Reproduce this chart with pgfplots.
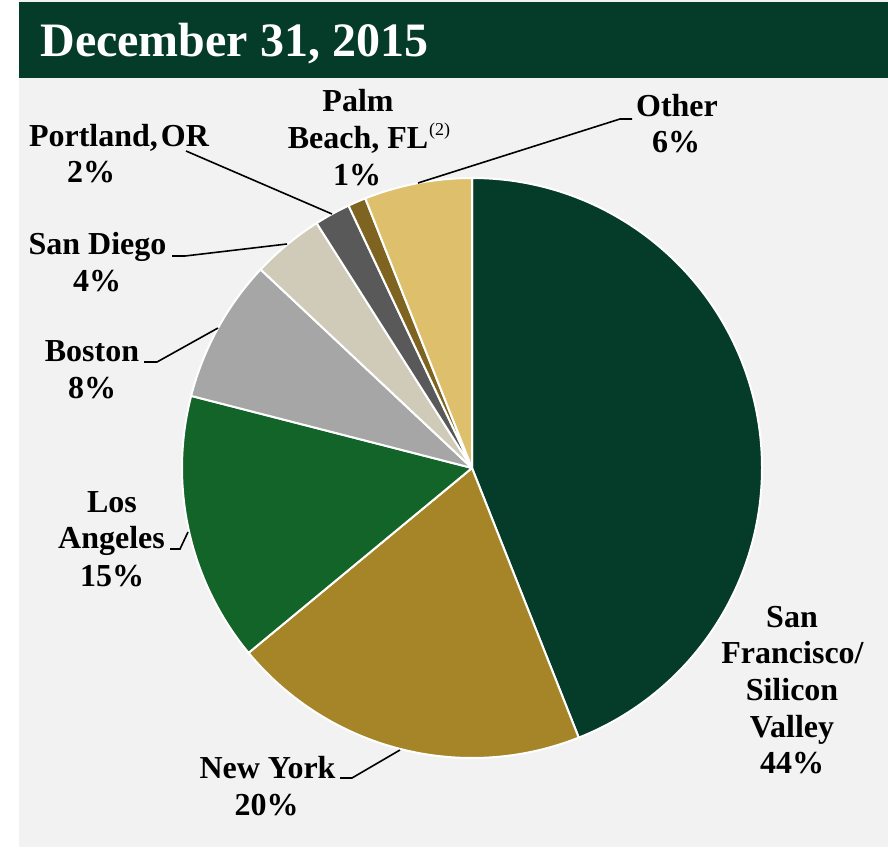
\documentclass[border=0pt]{standalone}
\usepackage{pgfplots}
\usepackage{pgfplotstable}
\pgfplotsset{compat=1.18}
\usepackage{fontspec}
\setmainfont{Liberation Serif}
\definecolor{bgGray}{HTML}{F2F2F2}
\definecolor{barGreen}{HTML}{053B29}
\definecolor{c0}{HTML}{053B29}
\definecolor{c1}{HTML}{A68529}
\definecolor{c2}{HTML}{126428}
\definecolor{c3}{HTML}{A6A6A6}
\definecolor{c4}{HTML}{D0CBB9}
\definecolor{c5}{HTML}{595959}
\definecolor{c6}{HTML}{7F6320}
\definecolor{c7}{HTML}{DEBF6C}
\pgfplotstableread{
name value
SF 44
NY 20
LA 15
BOS 8
SD 4
POR 2
PB 1
OTH 6
}\piedata
\newcommand{\lfont}{\fontsize{16}{18}\selectfont\bfseries}
\newcommand{\lab}[3]{\node[anchor=base,inner sep=0pt,font=\lfont] at (axis cs:#1,#2) {#3};}
\begin{document}
\begin{tikzpicture}
\def\cum{0}
\foreach \i in {0,...,7}{
  \pgfplotstablegetelem{\i}{value}\of{\piedata}
  \pgfmathsetmacro{\s}{90-3.6*\cum}
  \pgfmathsetmacro{\newcum}{\cum+\pgfplotsretval}
  \pgfmathsetmacro{\e}{90-3.6*\newcum}
  \expandafter\xdef\csname ps\i\endcsname{\s}
  \expandafter\xdef\csname pe\i\endcsname{\e}
  \xdef\cum{\newcum}
}
\begin{axis}[
  scale only axis, width=444pt, height=423.5pt,
  xmin=0, xmax=888, ymin=0, ymax=847,
  hide axis, clip=false
]
\fill[white] (axis cs:0,0) rectangle (axis cs:888,847);
\fill[bgGray] (axis cs:19,0) rectangle (axis cs:888,847);
\fill[barGreen] (axis cs:19,769) rectangle (axis cs:888,845);
\node[anchor=base west,inner sep=0pt,text=white,font=\fontsize{24}{28}\selectfont\bfseries] at (axis cs:40,790) {December 31, 2015};
\pgfplotsinvokeforeach{0,...,7}{
  \fill[c#1, draw=white, line width=1pt, line join=round]
    (axis cs:472,379) -- ([shift={(\csname ps#1\endcsname:145pt)}]axis cs:472,379)
    arc[start angle=\csname ps#1\endcsname, end angle=\csname pe#1\endcsname, radius=145pt] -- cycle;
}
% leader lines
\draw[black, line width=0.8pt] (axis cs:186,696) -- (axis cs:332,633);
\draw[black, line width=0.8pt] (axis cs:632,728) -- (axis cs:620,728) -- (axis cs:418,664);
\draw[black, line width=0.8pt] (axis cs:172,591) -- (axis cs:185,591) -- (axis cs:287,603);
\draw[black, line width=0.8pt] (axis cs:144,485) -- (axis cs:157,485) -- (axis cs:218,519);
\draw[black, line width=0.8pt] (axis cs:170,298) -- (axis cs:180,298) -- (axis cs:188,315);
\draw[black, line width=0.8pt] (axis cs:340,69) -- (axis cs:352,69) -- (axis cs:400,97);
% labels
\lab{358}{735}{Palm}
\lab{358}{698}{Beach, FL\rlap{\kern0.5pt\raisebox{6.5pt}{\normalfont\fontsize{9}{10}\selectfont(2)}}}
\lab{357}{661}{1\%}
\lab{119}{700}{Portland,\kern1.5pt OR}
\lab{91}{664}{2\%}
\lab{677}{730}{Other}
\lab{676}{694}{6\%}
\lab{97.5}{592}{San Diego}
\lab{97}{555}{4\%}
\lab{92}{485}{Boston}
\lab{92}{449}{8\%}
\lab{112}{335}{Los}
\lab{111.5}{299}{Angeles}
\lab{112}{261}{15\%}
\lab{267.5}{69}{New York}
\lab{266.5}{32}{20\%}
\lab{792}{220}{San}
\lab{792.5}{184}{Francisco/}
\lab{792}{147}{Silicon}
\lab{792}{110}{Valley}
\lab{792}{74}{44\%}
\end{axis}
\end{tikzpicture}
\end{document}
